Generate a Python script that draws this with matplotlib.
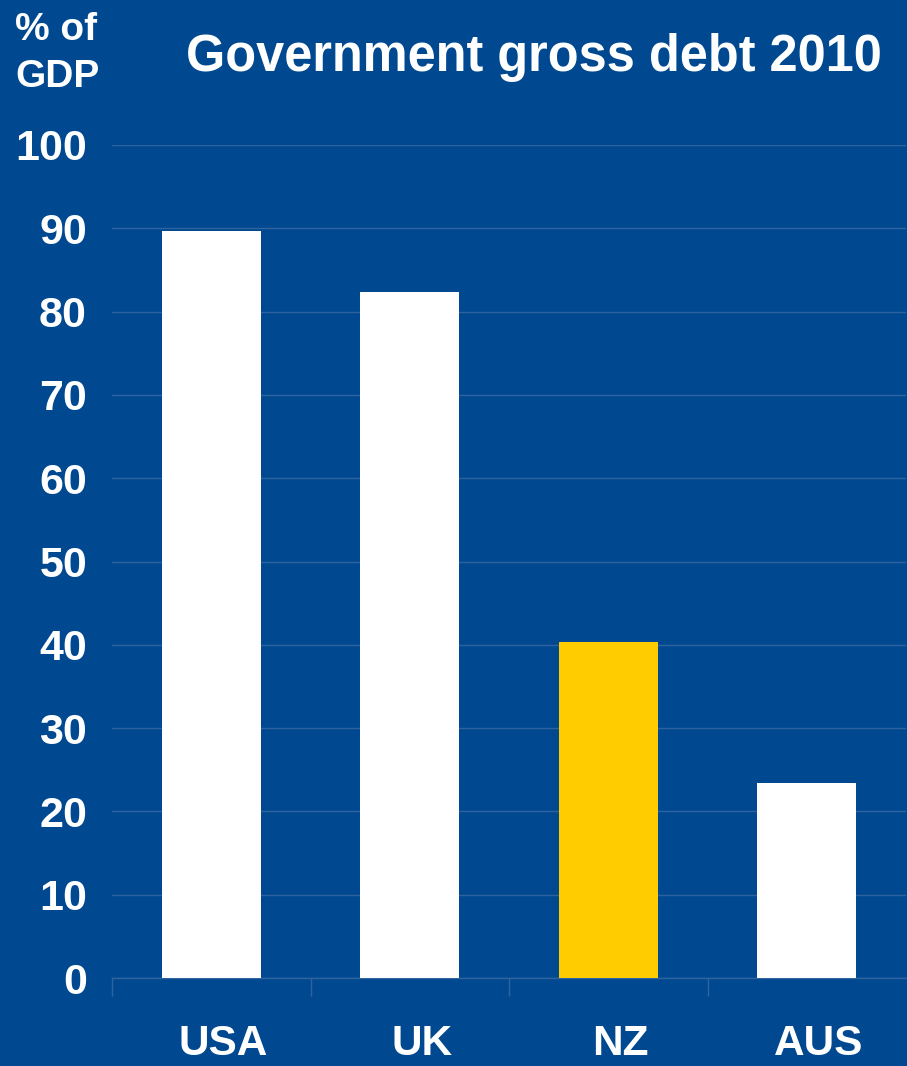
import matplotlib
matplotlib.use("Agg")
import matplotlib.pyplot as plt
from matplotlib.transforms import ScaledTranslation

countries = ["USA", "UK", "NZ", "AUS"]
debt = [89.7, 82.4, 40.3, 23.4]
bar_colors = ["#ffffff", "#ffffff", "#ffcc00", "#ffffff"]
yticks = [0, 10, 20, 30, 40, 50, 60, 70, 80, 90, 100]

BG = "#004990"
GRID = "#2f63a0"
W, H = 907, 1066

plt.rcParams["font.family"] = ["Liberation Sans", "DejaVu Sans"]
fig = plt.figure(figsize=(W / 100, H / 100), dpi=100, facecolor=BG)
ax = fig.add_axes([112 / W, (H - 978) / H, (906 - 112) / W, (978 - 145) / H], facecolor=BG)

x = range(len(countries))
ax.bar(x, debt, width=0.5, color=bar_colors, zorder=3)
ax.set_xlim(-0.5, len(countries) - 0.5)
ax.set_ylim(0, 100)
ax.set_yticks(yticks)
ax.set_yticklabels([str(v) for v in yticks], fontsize=31, fontweight="bold", color="white")
ax.yaxis.grid(True, color=GRID, linewidth=1, zorder=0)
ax.tick_params(axis="y", length=0, pad=18)

ax.set_xticks([i - 0.5 for i in range(len(countries))], minor=False)
ax.set_xticklabels([])
ax.tick_params(axis="x", which="major", direction="out", length=13, width=1, color=GRID)
ax.set_xticks(list(x), minor=True)
ax.set_xticklabels(countries, minor=True, fontsize=30.5, fontweight="bold", color="white")
ax.tick_params(axis="x", which="minor", length=0, pad=33)
shift = ScaledTranslation(12 / 100, 0, fig.dpi_scale_trans)
for lab in ax.get_xticklabels(minor=True):
    lab.set_transform(lab.get_transform() + shift)

for s in ["top", "right", "left"]:
    ax.spines[s].set_visible(False)
ax.spines["bottom"].set_color(GRID)
ax.spines["bottom"].set_linewidth(1)

fig.text(882 / W, 1 - 58 / H, "Government gross debt 2010", ha="right", va="center",
         fontsize=36.4, fontweight="bold", color="white")
fig.text(15 / W, 1 - 30 / H, "% of", ha="left", va="center", fontsize=28, fontweight="bold", color="white")
fig.text(15 / W, 1 - 77 / H, "GDP", ha="left", va="center", fontsize=28, fontweight="bold", color="white")

fig.savefig("out.png", dpi=100, facecolor=BG)
